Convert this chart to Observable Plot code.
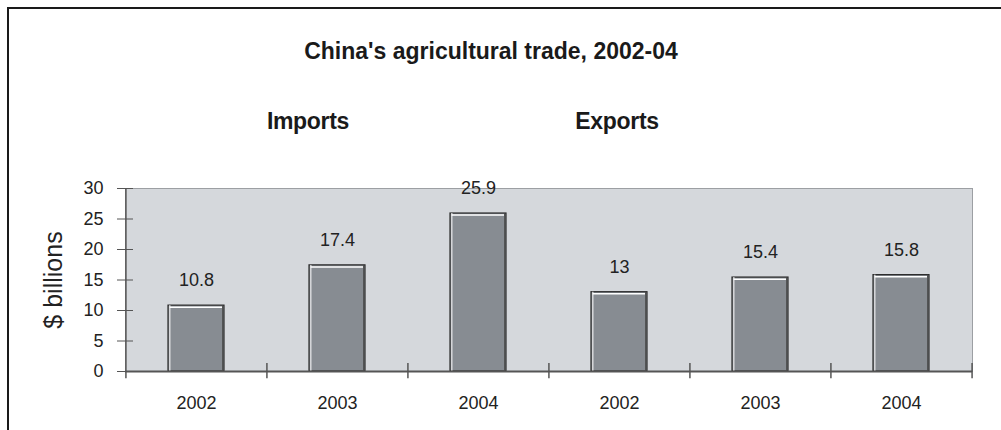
<!DOCTYPE html>
<html>
<head>
<meta charset="utf-8">
<script src="https://cdn.jsdelivr.net/npm/d3@7"></script>
<script src="https://cdn.jsdelivr.net/npm/@observablehq/plot@0.6"></script>
<style>
  body { margin: 0; background: #fff; font-family: "Liberation Sans", Arial, sans-serif; color: #222; }
  #wrap { position: relative; width: 1001px; height: 430px; overflow: hidden; }
  #border { position: absolute; left: 7px; top: 7px; width: 1000px; height: 430px; border-top: 2px solid #1a1a1a; border-left: 2px solid #1a1a1a; box-sizing: border-box; }
  .t { position: absolute; transform: translate(-50%, -50%); line-height: 1; white-space: nowrap; font-weight: bold; font-size: 23px; color: #1a1a1a; letter-spacing: -0.3px; }
  #title { letter-spacing: 0; }
  #header { position: relative; height: 150px; }
  #chart { position: relative; }
</style>
</head>
<body>
<div id="wrap">
  <div id="border"></div>
  <div id="header">
    <div class="t" id="title" style="left:491px; top:51px;"></div>
    <div class="t" id="sub1" style="left:308px; top:121px;"></div>
    <div class="t" id="sub2" style="left:617px; top:121px;"></div>
  </div>
  <div id="chart"></div>
</div>
<script>
const title = "China's agricultural trade, 2002-04";
const groups = ["Imports", "Exports"];
const years = ["2002", "2003", "2004"];
const imports = [10.8, 17.4, 25.9];
const exports = [13, 15.4, 15.8];
const yTicks = [0, 5, 10, 15, 20, 25, 30];
const yLabel = "$ billions";

document.getElementById("title").textContent = title;
document.getElementById("sub1").textContent = groups[0];
document.getElementById("sub2").textContent = groups[1];

const data = [
  ...years.map((yr, i) => ({key: groups[0] + " " + yr, year: yr, value: imports[i]})),
  ...years.map((yr, i) => ({key: groups[1] + " " + yr, year: yr, value: exports[i]}))
];
const keys = data.map(d => d.key);

const W = 1001, H = 280, mL = 125, mR = 29, mT = 38, mB = 59;
const step = (W - mL - mR) / keys.length;
const pad = 0.6;
const bw = step * (1 - pad);

// band boundary ticks: left edge of every band, plus right edge of last
const bounds = [
  ...keys.map((k, i) => ({key: k, side: -1, first: i === 0})),
  {key: keys[keys.length - 1], side: 1, first: false}
];

const font = '"Liberation Sans", Arial, sans-serif';

const chart = Plot.plot({
  width: W,
  height: H,
  marginLeft: mL,
  marginRight: mR,
  marginTop: mT,
  marginBottom: mB,
  style: {fontFamily: font, fontSize: "18px", color: "#222", background: "transparent", overflow: "visible"},
  x: {domain: keys, paddingInner: pad, paddingOuter: pad / 2, label: null},
  y: {domain: [0, 30], label: null},
  marks: [
    Plot.frame({fill: "#d5d8dc", stroke: "#9c9fa3"}),
    Plot.axisY({ticks: yTicks, tickSize: 16, tickPadding: 14, dx: 8, stroke: "#555", label: null, fontSize: 18}),
    Plot.axisX({tickSize: 0, tickPadding: 25, tickFormat: k => k.split(" ")[1], label: null, fontSize: 18}),
    Plot.barY(data, {x: "key", y: "value", fill: "#878c92", stroke: "#2a2a2a", strokeWidth: 1.2}),
    Plot.tickY(data, {x: "key", y: "value", stroke: "#ffffff", strokeWidth: 1.5, dy: 1.6, insetLeft: 1.6, insetRight: 2}),
    Plot.ruleX(data, {x: "key", y1: 0, y2: "value", stroke: "#ffffff", strokeWidth: 1, dx: -bw / 2 + 1.6, insetTop: 1}),
    Plot.ruleX(data, {x: "key", y1: 0, y2: "value", stroke: "#444", strokeWidth: 1, dx: bw / 2 - 2}),
    Plot.ruleY([0], {stroke: "#555", strokeWidth: 2}),
    ...bounds.map(b => Plot.ruleX([b], {x: "key", y1: -1.2, y2: b.first ? 30 : 1.3, dx: b.side * step / 2, stroke: "#555", strokeWidth: 1.5})),
    Plot.text(data, {x: "key", y: "value", text: d => String(d.value), dy: -25, fill: "#222", fontSize: 18}),
    Plot.text([yLabel], {frameAnchor: "left", textAnchor: "middle", rotate: -90, dx: -72, fontSize: 25, fill: "#222"})
  ]
});
document.getElementById("chart").appendChild(chart);
</script>
</body>
</html>
